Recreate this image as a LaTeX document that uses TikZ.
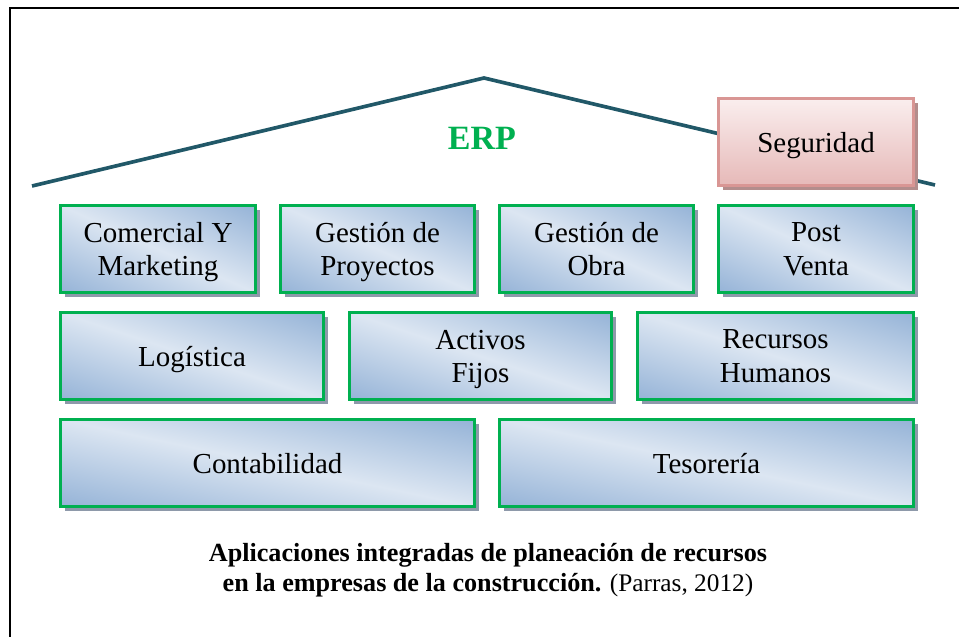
\documentclass[tikz,border=0pt]{standalone}
\usepackage{fontspec}
\setmainfont{Liberation Serif}
\usetikzlibrary{shadows}

\definecolor{roofcol}{HTML}{215868}
\definecolor{modgreen}{HTML}{00B050}
\definecolor{modshadow}{HTML}{8E99AA}
\definecolor{segborder}{HTML}{D99694}
\definecolor{segtop}{HTML}{FAEEEE}
\definecolor{segbottom}{HTML}{E6B9B8}
\definecolor{segshadow}{HTML}{B38D8C}

% light band along the diagonal, darker blue in the other two corners
\pgfdeclarefunctionalshading{modshade}{\pgfpointorigin}{\pgfpoint{100bp}{100bp}}{}{
  add 100 sub abs 50 div dup 1 gt {pop 1} if
  dup -0.279 mul 0.863 add exch
  dup -0.200 mul 0.902 add exch
  -0.106 mul 0.949 add
}

\tikzset{
  modbox/.style={draw=modgreen, line width=2.1pt, inner sep=0pt,
    shading=modshade, align=center, minimum height=2.175cm,
    font=\fontsize{20.6}{23.5}\selectfont, text depth=0pt,
    general shadow={fill=modshadow, shadow xshift=0.11cm, shadow yshift=-0.11cm}},
  segbox/.style={draw=segborder, line width=2.1pt, inner sep=0pt,
    top color=segtop, bottom color=segbottom, align=center,
    minimum width=4.875cm, minimum height=2.175cm,
    font=\fontsize{20.6}{23.5}\selectfont, text depth=0pt,
    general shadow={fill=segshadow, shadow xshift=0.11cm, shadow yshift=-0.11cm}},
  roof/.style={draw=roofcol, line width=2.6pt}
}

\begin{document}
\begin{tikzpicture}[x=0.025cm, y=-0.025cm]
  \useasboundingbox (0,0) rectangle (959,637);
  % frame
  \draw[line width=1.4pt] (10,637) -- (10,8) -- (960,8);
  % roof
  \coordinate (eaveL) at (32,186);
  \coordinate (apex) at (484,78);
  \coordinate (eaveR) at (935,185);
  \draw[roof] (eaveL) -- (apex) -- (eaveR);
  \node[text=modgreen, font=\fontsize{24.2}{28}\selectfont\bfseries] (erp) at (482,138) {ERP};
  \node[segbox] (seguridad) at (816,142) {Seguridad};
  % row 1
  \node[modbox, minimum width=4.875cm] (comercial) at (158,249) {Comercial Y\\Marketing};
  \node[modbox, minimum width=4.85cm] (proyectos) at (377.5,249) {Gestión de\\Proyectos};
  \node[modbox, minimum width=4.85cm] (obra) at (596.5,249) {Gestión de\\Obra};
  \node[modbox, minimum width=4.875cm] (postventa) at (816,249) {Post\\Venta};
  % row 2
  \node[modbox, minimum width=6.575cm] (logistica) at (192,356) {Logística};
  \node[modbox, minimum width=6.55cm] (activos) at (480.5,356) {Activos\\Fijos};
  \node[modbox, minimum width=6.9cm] (rrhh) at (775.5,356) {Recursos\\Humanos};
  % row 3
  \node[modbox, minimum width=10.35cm] (contabilidad) at (267.5,463) {Contabilidad};
  \node[modbox, minimum width=10.35cm] (tesoreria) at (706.5,463) {Tesorería};
  % caption
  \node[align=center, font=\fontsize{18}{21.3}\selectfont] (caption) at (488,570)
    {{\fontsize{18.6}{21.3}\selectfont\bfseries Aplicaciones integradas de planeación de recursos}\\
     {\fontsize{18.6}{21.3}\selectfont\bfseries en la empresas de la construcción.} (Parras, 2012)};
\end{tikzpicture}
\end{document}
